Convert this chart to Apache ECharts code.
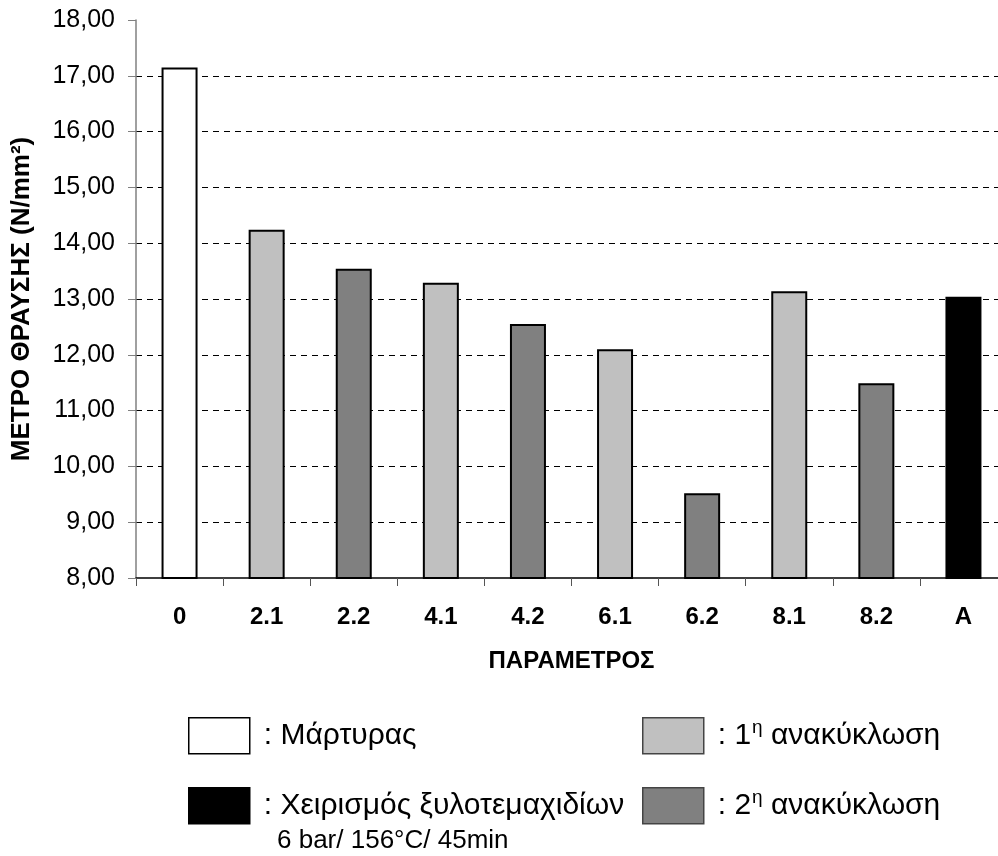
<!DOCTYPE html>
<html><head><meta charset="utf-8">
<script src="https://cdn.jsdelivr.net/npm/echarts@6/dist/echarts.min.js"></script>
<style>html,body{margin:0;padding:0;background:#fff;overflow:hidden}#c{width:1007px;height:856px}</style>
</head><body><div id="c"></div>
<script>
const categories = ['0','2.1','2.2','4.1','4.2','6.1','6.2','8.1','8.2','A'];
const values = [17.15, 14.24, 13.54, 13.29, 12.55, 12.10, 9.52, 13.14, 11.49, 13.04];
const groups = ['control','r1','r2','r1','r2','r1','r2','r1','r2','treat'];
const seriesKeys = ['control','r1','treat','r2'];
const seriesColors = {control:'#ffffff', r1:'#c0c0c0', r2:'#808080', treat:'#000000'};
const legendNames = {control:'Μάρτυρας', r1:'1η ανακύκλωση', r2:'2η ανακύκλωση', treat:'Χειρισμός ξυλοτεμαχιδίων'};
const legendLabels = {control:': Μάρτυρας', r1:': 1{s|η} ανακύκλωση', r2:': 2{s|η} ανακύκλωση', treat:': Χειρισμός ξυλοτεμαχιδίων'};
const treatSub = '6 bar/ 156°C/ 45min';
const yTicks = [8,9,10,11,12,13,14,15,16,17,18];
const yTitle = 'ΜΕΤΡΟ ΘΡΑΥΣΗΣ (N/mm²)';
const xTitle = 'ΠΑΡΑΜΕΤΡΟΣ';

const chart = echarts.init(document.getElementById('c'));
const font = 'Arial, "Liberation Sans", sans-serif';
const splitColors = yTicks.map((t,i)=> (i===0 || i===yTicks.length-1) ? 'rgba(0,0,0,0)' : '#000');

const series = seriesKeys.map(k => ({
  name: legendNames[k],
  type: 'bar',
  barWidth: 36,
  barGap: '-100%',
  data: values.map((v,i)=> groups[i]===k ? v : '-'),
  itemStyle: {color: seriesColors[k], borderColor:'#000', borderWidth: 2},
  emphasis: {disabled: true}
}));

const legendPos = {control:[188,717], r1:[642,717], treat:[188,787], r2:[642,787]};
const legends = seriesKeys.map(k => ({
  data: [legendNames[k]],
  left: legendPos[k][0], top: legendPos[k][1],
  padding: 0,
  icon: 'rect', itemWidth: 61, itemHeight: 36, itemGap: 0,
  selectedMode: false,
  formatter: () => legendLabels[k],
  itemStyle: {borderColor: k==='control' || k==='treat' ? '#000' : '#444', borderWidth: 1.5},
  textStyle: {fontFamily: font, fontSize: 30, color:'#000', padding:[0,0,0,9],
    rich: {s: {fontSize: 19, fontFamily: font, color:'#000', padding:[0,0,16,1]}}}
}));

chart.setOption({
  animation: false,
  backgroundColor: '#fff',
  grid: {left: 136, top: 20, bottom: 278, right: 0, containLabel: false},
  legend: legends,
  xAxis: {
    type: 'category', data: categories,
    axisLine: {lineStyle: {color: '#000', width: 1.5}},
    axisTick: {show: true, length: 8, lineStyle: {color:'#555'}},
    axisLabel: {fontFamily: font, fontSize: 24, fontWeight: 'bold', color: '#000', margin: 27},
    name: xTitle, nameLocation: 'middle', nameGap: 71,
    nameTextStyle: {fontFamily: font, fontSize: 24, fontWeight: 'bold', color: '#000'}
  },
  yAxis: {
    type: 'value', min: 8, max: 18, interval: 1,
    axisLine: {show: true, lineStyle: {color: '#808080', width: 1.5}},
    axisTick: {show: true, length: 8, lineStyle: {color:'#808080'}},
    axisLabel: {fontFamily: font, fontSize: 25, color: '#000', margin: 21,
      formatter: v => v.toFixed(2).replace('.', ',')},
    splitLine: {show: true, lineStyle: {color: splitColors, type: [6,5], width: 1}},
    name: yTitle, nameLocation: 'middle', nameGap: 101, nameRotate: 90,
    nameTextStyle: {fontFamily: font, fontSize: 26, fontWeight: 'bold', color: '#000'}
  },
  graphic: [{
    type: 'text', left: 277, top: 828,
    style: {text: treatSub, font: '26px ' + font, fill: '#000'}
  }],
  series: series
});
</script></body></html>
